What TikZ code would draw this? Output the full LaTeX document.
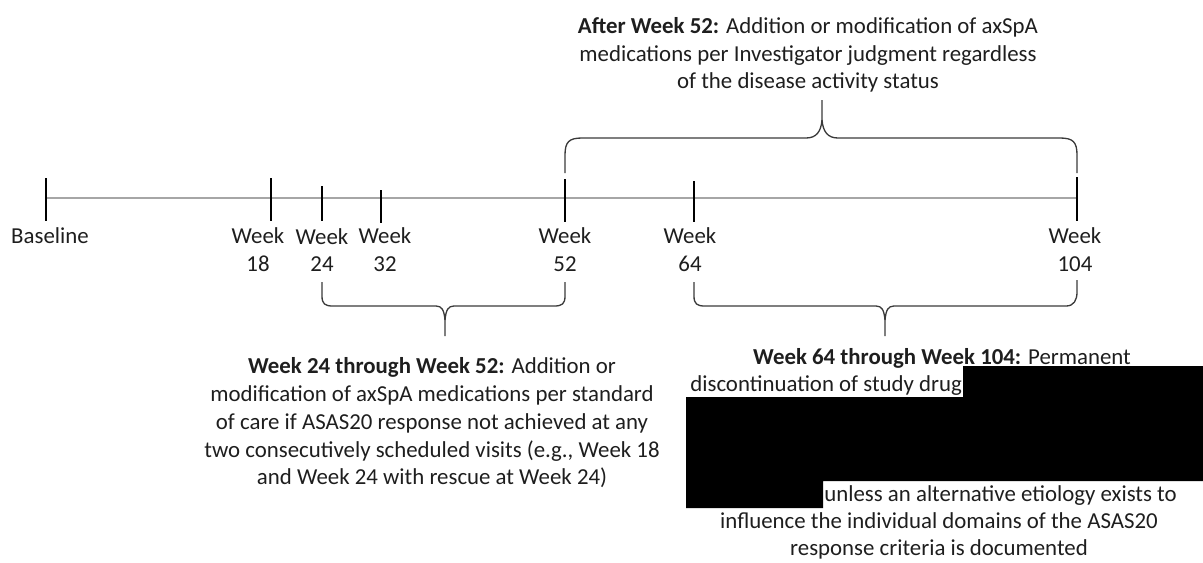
\documentclass[tikz,border=0pt]{standalone}
\usepackage{fontspec}
\setmainfont{Carlito}
\usepackage{xcolor}
\usepackage{tikz}
\definecolor{linegray}{HTML}{A6A6A6}
\definecolor{bracegray}{HTML}{3A3A3A}
\definecolor{inkcolor}{HTML}{1E1E1E}
\newcommand{\wkfont}{\fontsize{13}{15.8}\selectfont}

\begin{document}
\begin{tikzpicture}[
    x=0.02cm, y=-0.02cm,
    timeline/.style={draw=linegray, line width=0.6pt},
    wktick/.style={draw=black, line width=0.85pt},
    wklabel/.style={align=center, inner sep=0pt, font=\wkfont, text=inkcolor},
    note/.style={align=center, inner sep=0pt, font=\wkfont, text=inkcolor},
    span/.style={draw=bracegray, line width=0.75pt, line join=round},
    redact/.style={fill=black, draw=none}
]
\useasboundingbox (0,0) rectangle (1203,562);
\draw[timeline] (46,198) -- (1077,198);
\draw[wktick] (46,178) -- (46,221);
\draw[wktick] (271,178) -- (271,221);
\draw[wktick] (322,186) -- (322,221);
\draw[wktick] (381,190) -- (381,223);
\draw[wktick] (565,179) -- (565,222);
\draw[wktick] (694,181) -- (694,222);
\draw[wktick] (1077,177) -- (1077,221);
\node[wklabel] (base) at (50,236) {Baseline};
\node[wklabel] (wk18) at (258,250) {Week\\18};
\node[wklabel] (wk24) at (322,250) {Week\\24};
\node[wklabel] (wk32) at (385,250) {Week\\32};
\node[wklabel] (wk52) at (565,250) {Week\\52};
\node[wklabel] (wk64) at (690,250) {Week\\64};
\node[wklabel] (wk104) at (1075,250) {Week\\104};
\draw[span] (565,173) -- (565,155) .. controls (565,142) and (569,138) .. (582,138) -- (806,138) .. controls (816,138) and (821,132) .. (822,120) -- (822,100);
\draw[span] (822,120) .. controls (823,132) and (828,138) .. (838,138) -- (1060,138) .. controls (1073,138) and (1077,142) .. (1077,155) -- (1077,173);
\draw[span] (322,282) -- (322,296) .. controls (322,304) and (325,306) .. (333,306) -- (436,306) .. controls (442,306) and (444,310) .. (445,320) -- (445,336);
\draw[span] (445,320) .. controls (446,310) and (448,306) .. (454,306) -- (554,306) .. controls (562,306) and (565,304) .. (565,296) -- (565,282);
\draw[span] (694,282) -- (694,296) .. controls (694,304) and (697,306) .. (705,306) -- (876,306) .. controls (882,306) and (884,310) .. (885,320) -- (885,336);
\draw[span] (885,320) .. controls (886,310) and (888,306) .. (894,306) -- (1066,306) .. controls (1074,306) and (1077,300) .. (1077,292) -- (1077,280);
\node[note] (after52) at (808,55) {\textbf{After Week 52:} Addition or modification of axSpA\\medications per Investigator judgment regardless\\of the disease activity status};
\node[note] (wk24to52) at (432,423) {\textbf{Week 24 through Week 52:} Addition or\\modification of axSpA medications per standard\\of care if ASAS20 response not achieved at any\\two consecutively scheduled visits (e.g., Week 18\\and Week 24 with rescue at Week 24)};
\node[note] (wk64to104) at (942,358) {\textbf{Week 64 through Week 104:} Permanent};
\node[note, anchor=west] (disc) at (690,386) {discontinuation of study drug};
\node[note, anchor=west] (unless) at (824,496) {unless an alternative etiology exists to};
\node[note] (influence) at (939,536) {influence the individual domains of the ASAS20\\response criteria is documented};
\fill[redact] (963,366) -- (1203,366) -- (1203,481) -- (823,481) -- (823,508) -- (686,508) -- (686,397) -- (963,397) -- cycle;
\end{tikzpicture}
\end{document}
